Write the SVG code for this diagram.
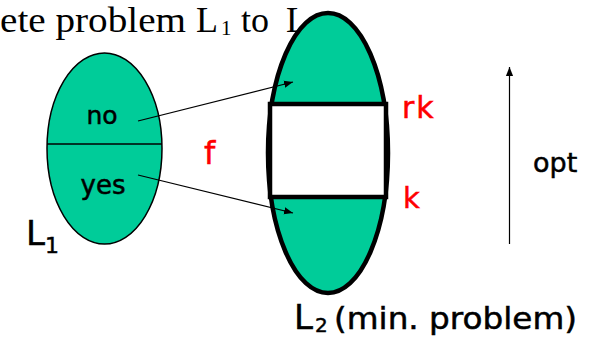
<svg xmlns="http://www.w3.org/2000/svg" width="590" height="337" viewBox="0 0 590 337">
<defs>
<style>
.serif{font-family:"Liberation Serif","Times New Roman",serif;fill:#000}
.lbl{font-family:"DejaVu Sans","Noto Sans",sans-serif;fill:#000;stroke:#000;stroke-width:0.5}
.red{font-family:"DejaVu Sans","Noto Sans",sans-serif;fill:#ff0000;stroke:#ff0000;stroke-width:0.5}
.conn{stroke:#000;stroke-width:1.2;fill:none}
</style>
<marker id="ah" viewBox="0 0 10 10" refX="10" refY="5" markerWidth="9" markerHeight="9" markerUnits="userSpaceOnUse" orient="auto">
<path d="M0,1 L10,5 L0,9 Z" fill="#000"/>
</marker>
</defs>
<rect width="590" height="337" fill="#fff"/>
<g id="title">
<text class="serif" x="0" y="32" font-size="36" textLength="186" lengthAdjust="spacingAndGlyphs">ete problem</text>
<text class="serif" x="196" y="32" font-size="36">L</text>
<text class="serif" x="221" y="35" font-size="21">1</text>
<text class="serif" x="241" y="32" font-size="36">to</text>
<text class="serif" x="286" y="32" font-size="36">L</text>
</g>
<g id="L1">
<ellipse cx="104.5" cy="148.5" rx="57.5" ry="95.5" fill="#00cc99" stroke="#000" stroke-width="1.5"/>
<line x1="47" y1="144" x2="162" y2="144" stroke="#000" stroke-width="1.5"/>
<text class="lbl" x="102" y="124" font-size="25" text-anchor="middle">no</text>
<text class="lbl" x="103" y="194" font-size="26" text-anchor="middle">yes</text>
<text class="lbl" x="26" y="245" font-size="34">L</text>
<text class="lbl" x="45" y="253" font-size="22">1</text>
</g>
<g id="L2">
<ellipse cx="328" cy="153" rx="60" ry="140" fill="#00cc99" stroke="#000" stroke-width="4.5"/>
<rect x="270" y="104" width="116" height="93" fill="#fff" stroke="#000" stroke-width="4.5"/>
<text class="lbl" x="294" y="329" font-size="34">L</text>
<text class="lbl" x="315" y="332" font-size="20">2</text>
<text class="lbl" x="334" y="329" font-size="30" textLength="243" lengthAdjust="spacingAndGlyphs">(min. problem)</text>
</g>
<g id="f-label"><text class="red" x="204" y="164" font-size="32">f</text></g>
<g id="rk-label"><text class="red" x="402" y="118" font-size="30" letter-spacing="2">rk</text></g>
<g id="k-label"><text class="red" x="403" y="208" font-size="29">k</text></g>
<g id="opt-label"><text class="lbl" x="533" y="172" font-size="27">opt</text></g>
<g id="connectors">
<line class="conn" x1="138" y1="121" x2="293" y2="82" marker-end="url(#ah)"/>
<line class="conn" x1="138" y1="175" x2="293" y2="213" marker-end="url(#ah)"/>
<line class="conn" x1="509.5" y1="244" x2="509.5" y2="67" marker-end="url(#ah)"/>
</g>
</svg>
